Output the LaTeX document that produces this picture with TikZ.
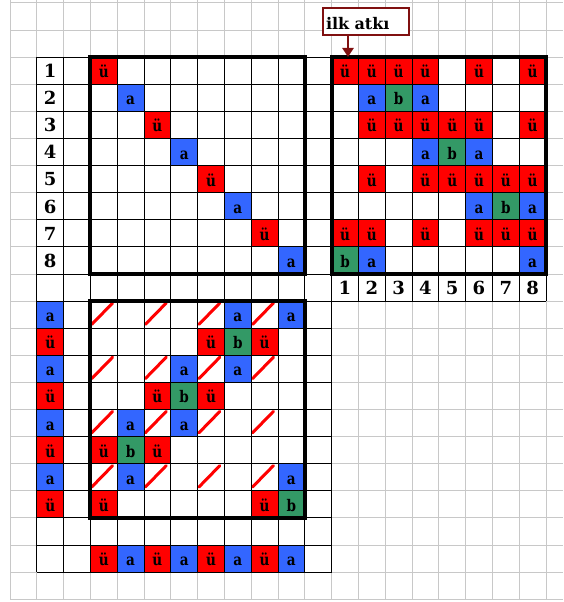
\documentclass[tikz,border=0pt]{standalone}
\usepackage{fontspec}
\setmainfont{DejaVu Serif}
\newfontfamily\cellfont[FakeStretch=0.85]{DejaVu Serif}
\usetikzlibrary{arrows.meta}
\definecolor{cred}{RGB}{255,0,0}
\definecolor{cblue}{RGB}{51,102,255}
\definecolor{cgreen}{RGB}{51,153,102}
\definecolor{cgrid}{RGB}{200,200,200}
\definecolor{cmaroon}{RGB}{128,16,16}
\tikzset{
  cellbase/.style={minimum width=26.8pt, minimum height=27.1pt, inner sep=0pt,
    text height=14pt, text depth=0pt, font=\cellfont\bfseries\fontsize{16}{16}\selectfont},
  redc/.style={cellbase, fill=cred},
  bluec/.style={cellbase, fill=cblue},
  greenc/.style={cellbase, fill=cgreen},
  numc/.style={cellbase, text height=13.5pt, font=\bfseries\fontsize{18}{18}\selectfont},
  thinblack/.style={black, line width=1pt},
  thickbox/.style={black, line width=4pt},
  gridline/.style={cgrid, line width=1pt},
  slashline/.style={cred, line width=3pt, line cap=round},
  labelbox/.style={draw=cmaroon, line width=2pt, fill=white, text width=80pt,
    align=left, inner xsep=3pt, inner ysep=0pt, minimum height=27pt,
    text height=16pt, text depth=0pt, font=\bfseries\fontsize{16}{16}\selectfont},
  arrowst/.style={cmaroon, line width=2.5pt, -{Triangle[width=11pt,length=9pt]}}
}
\newcommand\mkrow[3]{%
  \foreach \t [count=\k from 0] in {#3} {
    \pgfmathtruncatemacro\cc{#2+\k}
    \ifcase\t
    \or \node[redc] (m-\cc-#1) at (\cc+0.5,#1+0.5) {ü};
    \or \node[bluec] (m-\cc-#1) at (\cc+0.5,#1+0.5) {a};
    \or \node[greenc] (m-\cc-#1) at (\cc+0.5,#1+0.5) {b};
    \or \node[cellbase] (m-\cc-#1) at (\cc+0.5,#1+0.5) {};
        \draw[slashline] (\cc+0.05,#1+0.86) -- (\cc+0.83,#1+0.07);
    \fi
  }%
}
\begin{document}
\begin{tikzpicture}[x=1pt,y=1pt]
\useasboundingbox (0,0) rectangle (563,-602);
\fill[white] (0,0) rectangle (563,-602);
\begin{scope}[shift={(10,-3)}, x=26.8pt, y=-27.1pt]
  % grey background grid
  \foreach \r in {0,...,22} \draw[gridline] (0,\r) -- (20.63,\r);
  \foreach \c in {0,...,20} \draw[gridline] (\c,-0.12) -- (\c,22);
  % white under black region
  \fill[white] (1,2) rectangle (12,21);
  \fill[white] (12,2) rectangle (20,11);
  % top-left diagonal
  \mkrow{2}{3}{1}
  \mkrow{3}{3}{0,2}
  \mkrow{4}{3}{0,0,1}
  \mkrow{5}{3}{0,0,0,2}
  \mkrow{6}{3}{0,0,0,0,1}
  \mkrow{7}{3}{0,0,0,0,0,2}
  \mkrow{8}{3}{0,0,0,0,0,0,1}
  \mkrow{9}{3}{0,0,0,0,0,0,0,2}
  % top-right matrix
  \mkrow{2}{12}{1,1,1,1,0,1,0,1}
  \mkrow{3}{12}{0,2,3,2,0,0,0,0}
  \mkrow{4}{12}{0,1,1,1,1,1,0,1}
  \mkrow{5}{12}{0,0,0,2,3,2,0,0}
  \mkrow{6}{12}{0,1,0,1,1,1,1,1}
  \mkrow{7}{12}{0,0,0,0,0,2,3,2}
  \mkrow{8}{12}{1,1,0,1,0,1,1,1}
  \mkrow{9}{12}{3,2,0,0,0,0,0,2}
  % bottom matrix
  \mkrow{11}{3}{4,0,4,0,4,2,4,2}
  \mkrow{12}{3}{0,0,0,0,1,3,1,0}
  \mkrow{13}{3}{4,0,4,2,4,2,4,0}
  \mkrow{14}{3}{0,0,1,3,1,0,0,0}
  \mkrow{15}{3}{4,2,4,2,4,0,4,0}
  \mkrow{16}{3}{1,3,1,0,0,0,0,0}
  \mkrow{17}{3}{4,2,4,0,4,0,4,2}
  \mkrow{18}{3}{1,0,0,0,0,0,1,3}
  % left label column of bottom matrix
  \mkrow{11}{1}{2}
  \mkrow{12}{1}{1}
  \mkrow{13}{1}{2}
  \mkrow{14}{1}{1}
  \mkrow{15}{1}{2}
  \mkrow{16}{1}{1}
  \mkrow{17}{1}{2}
  \mkrow{18}{1}{1}
  % bottom row
  \mkrow{20}{3}{1,2,1,2,1,2,1,2}
  % number labels
  \foreach \i in {1,...,8} {
    \node[numc] (rl-\i) at (1.5,\i+1.5) {\i};
    \node[numc] (cl-\i) at (\i+11.5,10.5) {\i};
  }
  % black thin grid
  \foreach \c in {1,...,12} \draw[thinblack] (\c,2) -- (\c,21);
  \foreach \r in {2,...,21} \draw[thinblack] (1,\r) -- (12,\r);
  \foreach \c in {12,...,20} \draw[thinblack] (\c,2) -- (\c,11);
  \foreach \r in {2,...,11} \draw[thinblack] (12,\r) -- (20,\r);
  % thick frames
  \draw[thickbox] (3,2) rectangle (11,10);
  \draw[thickbox] (12,2) rectangle (20,10);
  \draw[thickbox] (3,11) rectangle (11,19);
\end{scope}
\node[labelbox] (ilk) at (366,-22) {ilk atkı};
\coordinate (tgt) at ([xshift=3pt]m-12-2.north);
\draw[arrowst] (ilk.south -| tgt) -- (tgt);
\end{tikzpicture}
\end{document}
